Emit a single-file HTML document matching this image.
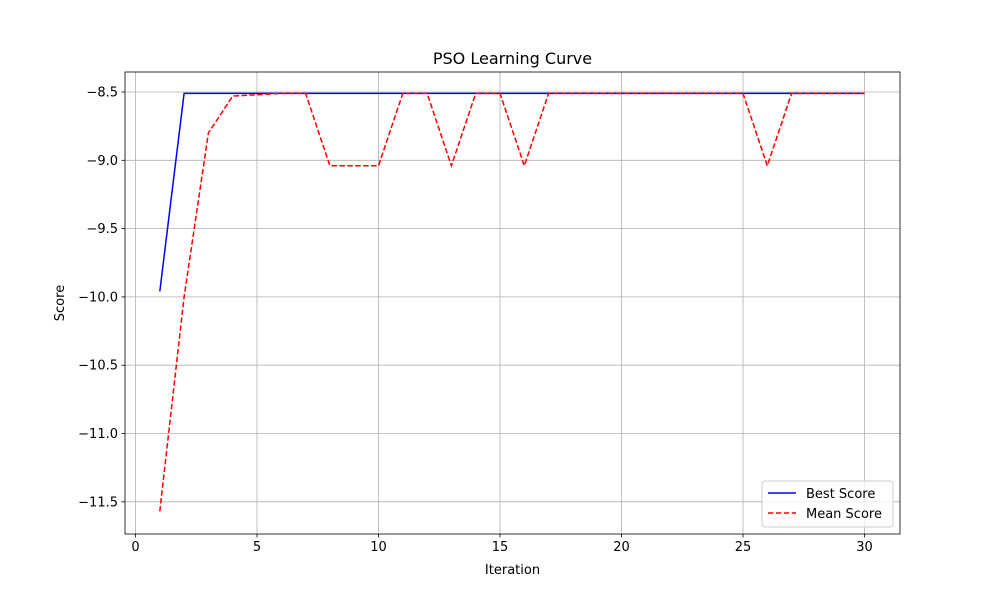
<!DOCTYPE html>
<html><head><meta charset="utf-8"><style>
body{margin:0;background:#fff;font-family:"DejaVu Sans","Liberation Sans",sans-serif;}
svg text{font-family:"DejaVu Sans","Liberation Sans",sans-serif;}
</style></head><body>
<svg id="chart" width="1000" height="600" xmlns="http://www.w3.org/2000/svg">
<rect width="1000" height="600" fill="#fff"/>
<g id="grid"></g><g id="series"></g><g id="axes"></g>
</svg>
<script>
const iterations=[1,2,3,4,5,6,7,8,9,10,11,12,13,14,15,16,17,18,19,20,21,22,23,24,25,26,27,28,29,30];
const bestScore=[-9.96,-8.51,-8.51,-8.51,-8.51,-8.51,-8.51,-8.51,-8.51,-8.51,-8.51,-8.51,-8.51,-8.51,-8.51,-8.51,-8.51,-8.51,-8.51,-8.51,-8.51,-8.51,-8.51,-8.51,-8.51,-8.51,-8.51,-8.51,-8.51,-8.51];
const meanScore=[-11.57,-10.0,-8.8,-8.53,-8.52,-8.51,-8.51,-9.04,-9.04,-9.04,-8.51,-8.51,-9.04,-8.51,-8.51,-9.04,-8.51,-8.51,-8.51,-8.51,-8.51,-8.51,-8.51,-8.51,-8.51,-9.04,-8.51,-8.51,-8.51,-8.51];
const xTicks=[0,5,10,15,20,25,30];
const yTicks=[-8.5,-9.0,-9.5,-10.0,-10.5,-11.0,-11.5];
const L=125,R=900,T=72,B=534;
const xs=v=>135.5+v*24.3;
const ys=v=>92+(-8.5-v)/0.5*68.3;
const NS="http://www.w3.org/2000/svg";
function mk(parent,tag,attrs,text){const e=document.createElementNS(NS,tag);for(const k in attrs)e.setAttribute(k,attrs[k]);if(text!==undefined)e.textContent=text;document.getElementById(parent).appendChild(e);return e;}
xTicks.forEach(t=>{const x=xs(t);
 let g=mk('grid','line',{x1:x,x2:x,y1:T,y2:B,stroke:'#b0b0b0','stroke-width':0.8});
 
 mk('axes','line',{x1:x,x2:x,y1:B,y2:B+3.5,stroke:'#000','stroke-width':0.8});
 let l=mk('axes','text',{x:x,y:B+17,'text-anchor':'middle','font-size':13},String(t));
 });
yTicks.forEach(t=>{const y=ys(t);
 let g=mk('grid','line',{x1:L,x2:R,y1:y,y2:y,stroke:'#b0b0b0','stroke-width':0.8});
 
 mk('axes','line',{x1:L-3.5,x2:L,y1:y,y2:y,stroke:'#000','stroke-width':0.8});
 let l=mk('axes','text',{x:L-7,y:y+4.5,'text-anchor':'end','font-size':13},'\u2212'+Math.abs(t).toFixed(1));
 });
let fr=mk('axes','rect',{x:L,y:T,width:R-L,height:B-T,fill:'none',stroke:'#000','stroke-width':0.8});

let p1=mk('series','polyline',{points:iterations.map((v,i)=>xs(v)+','+ys(bestScore[i])).join(' '),fill:'none',stroke:'#0000ff','stroke-width':1.5});

let p2=mk('series','polyline',{points:iterations.map((v,i)=>xs(v)+','+ys(meanScore[i])).join(' '),fill:'none',stroke:'#ff0000','stroke-width':1.5,'stroke-dasharray':'5.5,2.4'});

let tt=mk('axes','text',{x:512.5,y:64,'text-anchor':'middle','font-size':16},'PSO Learning Curve');

let xt=mk('axes','text',{x:512.5,y:574,'text-anchor':'middle','font-size':13},'Iteration');

let yt=mk('axes','text',{x:64,y:303,'text-anchor':'middle','font-size':13,transform:'rotate(-90 64 303)'},'Score');

let lg=mk('axes','rect',{x:762,y:481,width:131,height:46,rx:3,fill:'#fff','fill-opacity':0.8,stroke:'#ccc'});

mk('axes','line',{x1:768,x2:796,y1:493,y2:493,stroke:'#0000ff','stroke-width':1.5});
let e1=mk('axes','text',{x:806,y:498,'font-size':13},'Best Score');

mk('axes','line',{x1:768,x2:796,y1:513,y2:513,stroke:'#ff0000','stroke-width':1.5,'stroke-dasharray':'5.5,2.4'});
let e2=mk('axes','text',{x:806,y:518,'font-size':13},'Mean Score');

</script>
</body></html>
